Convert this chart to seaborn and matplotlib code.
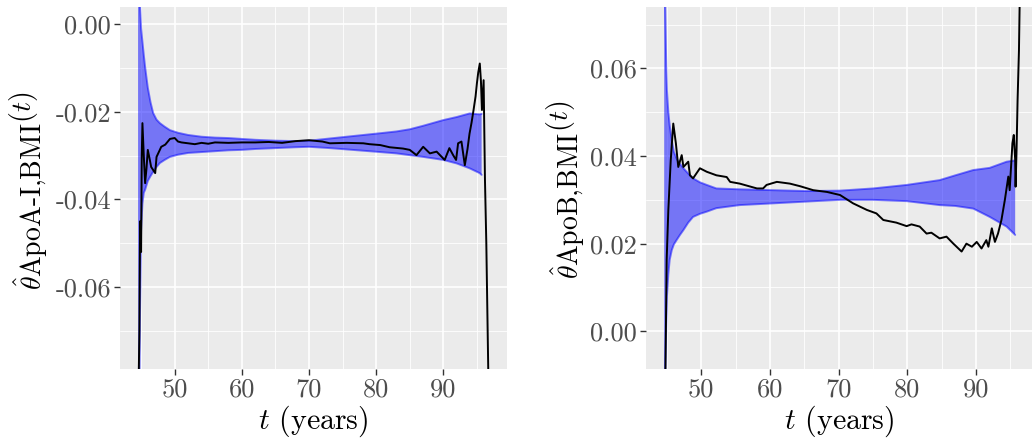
import numpy as np
import pandas as pd
import matplotlib
matplotlib.use("Agg")
import matplotlib.pyplot as plt
import matplotlib._mathtext as _mt
import seaborn as sns

# ---------------- data: left panel (ApoA-I, BMI) ----------------
a_band_t = [44.55, 44.7, 44.85, 45.0, 45.2, 45.4, 45.6, 46.0, 46.4, 46.8, 47.3, 47.8,
            48.5, 49.3, 50.5, 52, 54, 56, 58, 60, 62, 65, 68, 70, 73.1, 75.6, 78.1,
            80.6, 83, 85, 87, 90, 92, 93.9, 95.4, 95.7]
a_upper = [0.03, 0.015, 0.004, -0.001, -0.004, -0.007, -0.0098, -0.0145, -0.0178, -0.0203,
           -0.0218, -0.0226, -0.0234, -0.0242, -0.0248, -0.0253, -0.0257, -0.0259, -0.026,
           -0.0262, -0.0264, -0.0266, -0.0267, -0.0266, -0.0261, -0.0257, -0.0253, -0.0249,
           -0.0245, -0.024, -0.0232, -0.0219, -0.0212, -0.0204, -0.0206, -0.0205]
a_lower = [-0.12, -0.09, -0.065, -0.047, -0.041, -0.0385, -0.0378, -0.0358, -0.0347, -0.0337,
           -0.0326, -0.0317, -0.031, -0.0303, -0.0298, -0.0294, -0.0292, -0.029, -0.0288,
           -0.0287, -0.0285, -0.0283, -0.0281, -0.028, -0.0283, -0.0286, -0.0289, -0.0292,
           -0.0295, -0.0299, -0.0303, -0.031, -0.0318, -0.0329, -0.034, -0.0344]
a_est_t = [44.6, 44.75, 44.85, 45.0, 45.1, 45.2, 45.4, 45.6, 45.8, 46.0, 46.3, 46.5, 46.8,
           47.1, 47.3, 47.7, 48.0, 48.6, 49.3, 50.0, 50.5, 51, 52, 53, 54, 55, 56, 58, 60,
           62, 64, 66, 68, 70, 72, 73.1, 75.6, 78.1, 79, 80.6, 82, 84, 85, 86, 87, 88, 89,
           90.2, 90.9, 91.5, 91.9, 92.2, 92.7, 93.2, 93.6, 93.9, 94.2, 94.5, 94.8, 95.0,
           95.2, 95.43, 95.6, 95.75, 96.0, 96.2, 96.4, 96.6, 96.8]
a_est = [-0.085, -0.07, -0.045, -0.052, -0.03, -0.0226, -0.030, -0.0363, -0.033, -0.0287,
         -0.031, -0.0326, -0.0333, -0.034, -0.0303, -0.029, -0.028, -0.0275, -0.0262, -0.026,
         -0.0268, -0.027, -0.0272, -0.0274, -0.0271, -0.0273, -0.027, -0.0271, -0.027, -0.027,
         -0.0269, -0.0271, -0.0267, -0.0265, -0.0268, -0.0272, -0.0271, -0.0272, -0.0274,
         -0.0276, -0.0281, -0.0284, -0.0287, -0.0299, -0.028, -0.0295, -0.0291, -0.031,
         -0.0283, -0.03, -0.031, -0.0272, -0.0268, -0.0322, -0.0285, -0.025, -0.0225, -0.0196,
         -0.0165, -0.0135, -0.011, -0.009, -0.013, -0.0196, -0.0128, -0.0356, -0.05, -0.07,
         -0.09]

# ---------------- data: right panel (ApoB, BMI) ----------------
b_band_t = [44.6, 44.75, 44.9, 45.0, 45.2, 45.4, 45.7, 46.0, 46.4, 46.9, 47.4, 48.1, 48.8,
            49.8, 50.8, 52.2, 55.6, 60.5, 65.3, 70.2, 75.0, 79.9, 84.7, 87.0, 89.6, 92.0,
            94.45, 95.7]
b_upper = [0.09, 0.075, 0.06, 0.055, 0.05, 0.047, 0.0436, 0.041, 0.0394, 0.0382, 0.0372,
           0.036, 0.0349, 0.034, 0.0334, 0.0326, 0.0324, 0.0322, 0.032, 0.0321, 0.0326,
           0.0334, 0.0345, 0.0356, 0.0368, 0.0373, 0.0387, 0.039]
b_lower = [-0.03, -0.01, 0.002, 0.008, 0.013, 0.0163, 0.0185, 0.0198, 0.0208, 0.022, 0.0231,
           0.0248, 0.0261, 0.0268, 0.0273, 0.0281, 0.0288, 0.0292, 0.0296, 0.030, 0.030,
           0.0297, 0.0288, 0.0286, 0.028, 0.0261, 0.0239, 0.022]
b_est_t = [44.7, 44.96, 45.2, 45.55, 45.92, 46.3, 46.65, 47.15, 47.4, 48.1, 48.35, 48.8,
           49.8, 50.8, 52.2, 53.7, 54.2, 55.6, 58.1, 59.0, 59.5, 61.0, 62.9, 64.4, 66.3,
           68.3, 70.2, 72.1, 74.1, 75.5, 76.5, 78.4, 79.9, 80.6, 81.8, 82.8, 83.5, 84.7,
           85.7, 86.7, 87.9, 88.6, 89.4, 90.1, 90.8, 91.5, 91.8, 92.3, 92.75, 93.2, 93.7,
           94.2, 94.7, 94.9, 95.3, 95.5, 95.7, 95.76, 95.9, 96.05, 96.25, 96.5]
b_est = [-0.02, 0.0163, 0.0277, 0.039, 0.0474, 0.0429, 0.0375, 0.0402, 0.0375, 0.0387,
         0.0356, 0.0349, 0.0372, 0.0364, 0.0356, 0.0352, 0.0341, 0.0337, 0.0326, 0.0326,
         0.0334, 0.0341, 0.0337, 0.0331, 0.0322, 0.0318, 0.0311, 0.0292, 0.0277, 0.0269,
         0.0254, 0.0248, 0.024, 0.0244, 0.0239, 0.0223, 0.0225, 0.0212, 0.0216, 0.02,
         0.0182, 0.02, 0.0193, 0.0204, 0.0189, 0.0208, 0.0193, 0.0235, 0.0204, 0.0223,
         0.0254, 0.03, 0.0353, 0.0322, 0.0429, 0.0448, 0.0391, 0.033, 0.0413, 0.0527,
         0.064, 0.09]

# ---------------- axes text ----------------
x_ticks = [50, 60, 70, 80, 90]
x_tick_labels = ["50", "60", "70", "80", "90"]
x_minor = [45, 55, 65, 75, 85, 95]
a_y_ticks = [0.0, -0.02, -0.04, -0.06]
a_y_tick_labels = ["0.00", "-0.02", "-0.04", "-0.06"]
a_y_minor = [-0.01, -0.03, -0.05, -0.07]
b_y_ticks = [0.0, 0.02, 0.04, 0.06]
b_y_tick_labels = ["0.00", "0.02", "0.04", "0.06"]
b_y_minor = [0.01, 0.03, 0.05, 0.07]
x_label = r"$t$ (years)"
a_y_label = r"$\hat{\theta}\text{ApoA-I,BMI}^{(t)}$"
b_y_label = r"$\hat{\theta}\text{ApoB,BMI}^{(t)}$"

# the reference renders scripts at full size
_mt.SHRINK_FACTOR = 1.0

sns.set_theme(style="darkgrid", rc={
    "axes.facecolor": "#EBEBEB",
    "grid.color": "white",
    "axes.edgecolor": "#EBEBEB",
})
plt.rcParams["font.family"] = ["cmr10", "DejaVu Serif"]
plt.rcParams["mathtext.fontset"] = "cm"
plt.rcParams["axes.unicode_minus"] = False
plt.rcParams["axes.formatter.use_mathtext"] = True

fig = plt.figure(figsize=(10.32, 4.41), dpi=100)
fig.patch.set_facecolor("white")

W, H = 1032.0, 441.0
ax_a = fig.add_axes([120 / W, (H - 369) / H, 387 / W, 362 / H])
ax_b = fig.add_axes([646 / W, (H - 369) / H, 386 / W, 362 / H])

panels = [
    (ax_a, a_band_t, a_upper, a_lower, a_est_t, a_est, (41.86, 99.48), (-0.0787, 0.0039),
     a_y_ticks, a_y_tick_labels, a_y_minor, a_y_label, (28.5 - 120) / 387),
    (ax_b, b_band_t, b_upper, b_lower, b_est_t, b_est, (41.95, 98.15), (-0.0086, 0.074),
     b_y_ticks, b_y_tick_labels, b_y_minor, b_y_label, (566 - 646) / 386),
]

for (ax, bt, bu, bl, et, ev, xlim, ylim, yt, ytl, ymin, ylab, labx) in panels:
    band = pd.DataFrame({"t": bt, "upper": bu, "lower": bl})
    est = pd.DataFrame({"t": et, "est": ev})
    ax.fill_between(band["t"], band["lower"], band["upper"], color="blue", alpha=0.5,
                    linewidth=0)
    sns.lineplot(data=band, x="t", y="upper", ax=ax, color="blue", alpha=0.5, lw=1.4,
                 estimator=None, sort=False)
    sns.lineplot(data=band, x="t", y="lower", ax=ax, color="blue", alpha=0.5, lw=1.4,
                 estimator=None, sort=False)
    sns.lineplot(data=est, x="t", y="est", ax=ax, color="black", lw=1.4,
                 estimator=None, sort=False)
    ax.set_xlim(*xlim)
    ax.set_ylim(*ylim)
    ax.set_xticks(x_ticks)
    ax.set_xticklabels(x_tick_labels)
    ax.set_xticks(x_minor, minor=True)
    ax.set_yticks(yt)
    ax.set_yticklabels(ytl)
    ax.set_yticks(ymin, minor=True)
    ax.grid(which="major", color="white", lw=1.2)
    ax.grid(which="minor", color="white", lw=0.6)
    ax.tick_params(which="major", length=4.5, width=1.0, color="#333333",
                   labelcolor="#4D4D4D", labelsize=19, pad=2, left=True, bottom=True)
    ax.tick_params(which="minor", length=0)
    for s in ax.spines.values():
        s.set_visible(False)
    ax.set_xlabel(x_label, fontsize=21.5, color="black", labelpad=1)
    ax.set_ylabel(ylab, fontsize=20, color="black", va="center")
    ax.yaxis.set_label_coords(labx, 0.494)

fig.savefig("out.png", dpi=100, facecolor="white")
